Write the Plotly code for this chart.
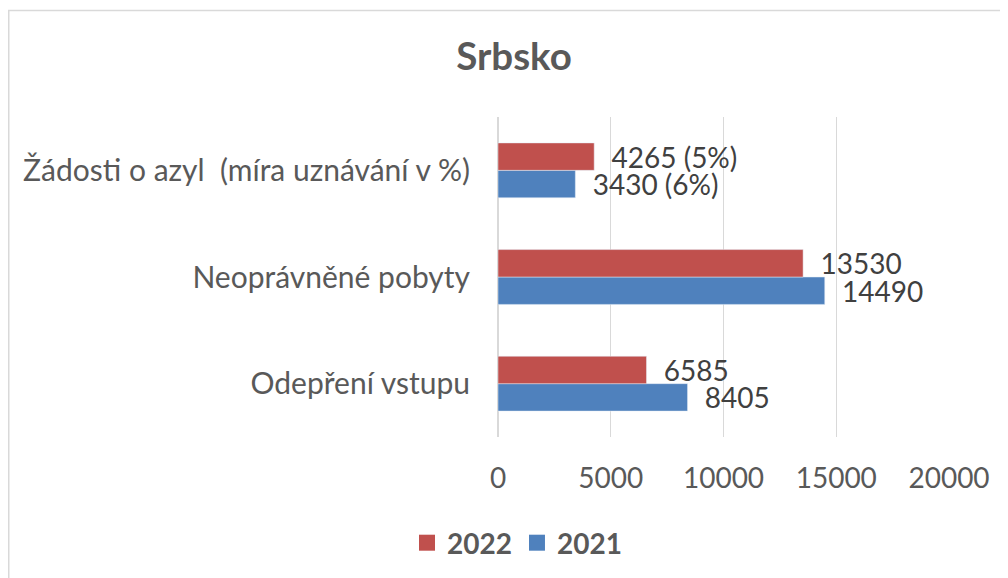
import plotly.graph_objects as go

categories = ["Odepření vstupu", "Neoprávněné pobyty", "Žádosti o azyl  (míra uznávání v %)"]
values_2022 = [6585, 13530, 4265]
values_2021 = [8405, 14490, 3430]
rates_2022 = ["", "", " (5%)"]
rates_2021 = ["", "", " (6%)"]
x_ticks = [0, 5000, 10000, 15000, 20000]

FONT = "Lato"
GREY = "#595959"
RED, BLUE = "#C0504D", "#4F81BD"

W, H = 1008, 578
OFF = 8  # page body margin offset
# desired plot area in page pixels
PL, PR, PT, PB = 498, 949, 117, 437
L, T = PL - OFF, PT - OFF
R, B = W - (PR - OFF), H - (PB - OFF)
pw, ph = W - L - R, H - T - B

def px(x):  # page px -> paper x
    return (x - OFF - L) / pw

def py(y):  # page px -> paper y
    return (H - B - (y - OFF)) / ph

fig = go.Figure()
for name, vals, rates, col in [("2021", values_2021, rates_2021, BLUE),
                               ("2022", values_2022, rates_2022, RED)]:
    fig.add_trace(go.Bar(
        name=name, y=categories, x=vals, orientation="h",
        marker=dict(color=col), showlegend=False,
        text=[f"{v}{r}" for v, r in zip(vals, rates)],
        texttemplate="  %{text}", constraintext="none",
        textposition="outside", textfont=dict(family=FONT, size=28, color="#404040"),
        cliponaxis=False,
    ))

# legend proxies
for name, col in [("2022", RED), ("2021", BLUE)]:
    fig.add_trace(go.Scatter(
        name=f"<b>{name}</b>", x=[None], y=[None], mode="markers",
        marker=dict(symbol="square", size=18, color=col),
    ))

fig.update_layout(
    width=W, height=H,
    margin=dict(l=L, r=R, t=T, b=B, autoexpand=False),
    paper_bgcolor="white", plot_bgcolor="white",
    barmode="group", bargap=0.486, bargroupgap=0,
    font=dict(family=FONT, color=GREY),
    title=dict(text="<b>Srbsko</b>", x=(514 - OFF) / W, xref="container", xanchor="center",
               y=1 - (57 - OFF) / H, yref="container", yanchor="middle",
               font=dict(family=FONT, size=38.5, color=GREY), automargin=False),
    legend=dict(orientation="h", x=px(517), xanchor="center",
                y=py(543), yanchor="middle", font=dict(family=FONT, size=28, color=GREY),
                itemwidth=30, tracegroupgap=0),
    xaxis=dict(range=[0, 20000], tickvals=x_ticks, ticktext=[str(v) for v in x_ticks],
               showgrid=True, gridcolor="#D9D9D9",
               gridwidth=1, zeroline=True, zerolinecolor="#D9D9D9", showline=False,
               tickfont=dict(family=FONT, size=28, color=GREY), ticklabelstandoff=22,
               automargin=False),
    yaxis=dict(categoryorder="array", categoryarray=categories, showgrid=False,
               showline=False, tickfont=dict(family=FONT, size=30, color=GREY),
               ticklabelstandoff=27, automargin=False),
    shapes=[dict(type="rect", xref="paper", yref="paper",
                 x0=px(8.75), x1=px(1030), y0=py(600), y1=py(10.5),
                 line=dict(color="#D9D9D9", width=1.5), layer="below")],
)

fig.write_html("out.html")
